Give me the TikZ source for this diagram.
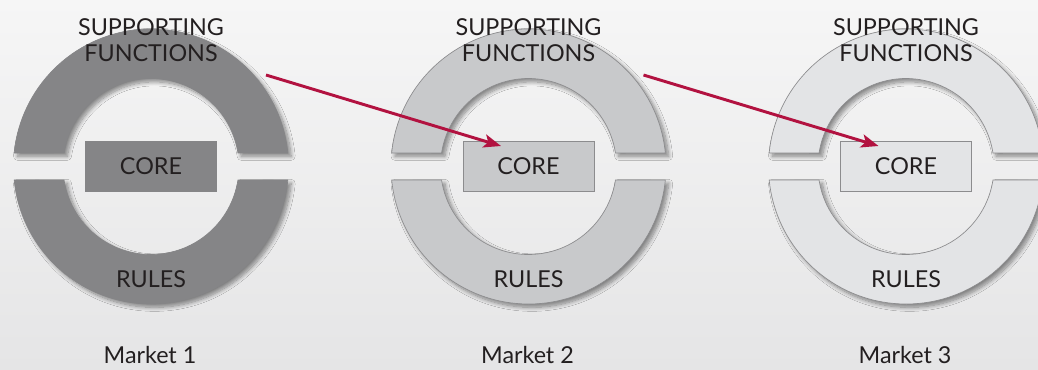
\documentclass[tikz,border=0pt]{standalone}
\usepackage{fontspec}
\setmainfont{Lato}
\usepackage{tikz}
\definecolor{bgtop}{RGB}{246,246,246}
\definecolor{bgbot}{RGB}{229,229,230}
\definecolor{ringdark}{RGB}{133,133,135}
\definecolor{ringmid}{RGB}{200,201,203}
\definecolor{ringlight}{RGB}{227,228,230}
\definecolor{edgegray}{RGB}{140,140,142}
\definecolor{inkdark}{RGB}{35,31,32}
\definecolor{linkred}{RGB}{178,18,64}
\usetikzlibrary{arrows.meta, calc, positioning, shadows.blur}

\tikzset{
  halfring/.style={line width=0.5pt, blur shadow={shadow xshift=2.5pt, shadow yshift=-2.5pt, shadow blur radius=3pt, shadow blur steps=10, shadow opacity=45}},
  ringtext/.style={text=inkdark, font=\fontsize{17.5}{20}\selectfont, align=center, inner sep=0pt},
  corebox/.style={ringtext, minimum width=98.25pt, minimum height=37.5pt, line width=0.6pt},
  link/.style={linkred, line width=2.2pt, -{Stealth[length=13pt, width=10pt, inset=3pt]}}
}

\begin{document}
\begin{tikzpicture}[x=0.75pt, y=0.75pt]
    \useasboundingbox (0,0) rectangle (1038,369);
    \shade[top color=bgtop, bottom color=bgbot] (0,0) rectangle (1038,369);

    % Markets 1 to 3: two half rings round a core
    \foreach \i/\cx/\ringc/\edgec in {1/151/ringdark/ringdark, 2/528.5/ringmid/edgegray, 3/906/ringlight/edgegray} {
        \coordinate (c\i) at (\cx, 202.5);
        \filldraw[halfring, fill=\ringc, draw=\edgec]
            ($(c\i)+(5.63:137.5)$) arc[start angle=5.63, end angle=174.37, radius=103.125pt]
            -- ($(c\i)+(171.17:88)$) arc[start angle=171.17, end angle=8.83, radius=66pt] -- cycle;
        \filldraw[halfring, fill=\ringc, draw=\edgec]
            ($(c\i)+(-5.63:137.5)$) arc[start angle=-5.63, end angle=-174.37, radius=103.125pt]
            -- ($(c\i)+(-171.17:88)$) arc[start angle=-171.17, end angle=-8.83, radius=66pt] -- cycle;
        \node[corebox, fill=\ringc, draw=\edgec] (core\i) at (c\i) {CORE};
        \node[ringtext] (sup\i) at ($(c\i)+(0,126.5)$) {SUPPORTING\\FUNCTIONS};
        \node[ringtext, anchor=base] (rules\i) at ($(c\i)+(0,-120.5)$) {RULES};
        \node[ringtext, anchor=base] (market\i) at ($(c\i)+(-1,-197)$) {Market \i};
        \coordinate (from\i) at ($(c\i)+(115,91.5)$);
        \coordinate (to\i) at ($(c\i)+(-27.5,20.5)$);
    }

    % links between markets
    \draw[link] (from1) -- (to2);
    \draw[link] (from2) -- (to3);
\end{tikzpicture}
\end{document}
